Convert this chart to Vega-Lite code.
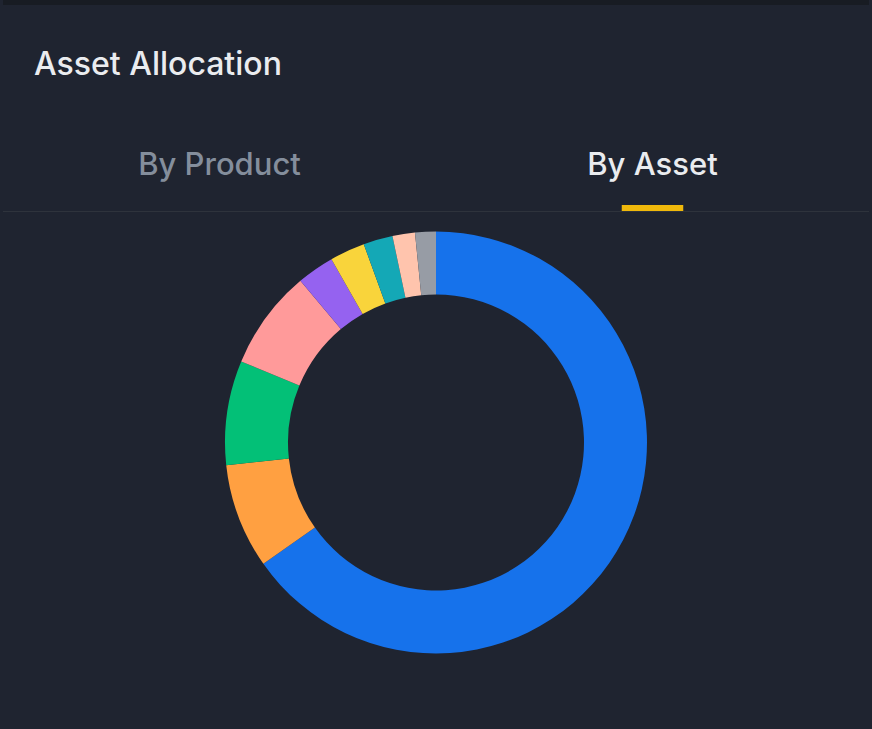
{
  "$schema": "https://vega.github.io/schema/vega-lite/v6.json",
  "width": 872,
  "height": 729,
  "autosize": {"type": "fit", "contains": "padding"},
  "padding": 0,
  "background": "#1F2430",
  "config": {"view": {"stroke": null}, "font": "Inter"},
  "datasets": {
    "assets": [
      {"idx": 1, "asset": "A1", "share": 65.25},
      {"idx": 2, "asset": "A2", "share": 8.03},
      {"idx": 3, "asset": "A3", "share": 8.0},
      {"idx": 4, "asset": "A4", "share": 7.61},
      {"idx": 5, "asset": "A5", "share": 2.86},
      {"idx": 6, "asset": "A6", "share": 2.69},
      {"idx": 7, "asset": "A7", "share": 2.25},
      {"idx": 8, "asset": "A8", "share": 1.72},
      {"idx": 9, "asset": "A9", "share": 1.59}
    ],
    "tabs": [
      {"tab": "By Product", "active": false},
      {"tab": "By Asset", "active": true}
    ],
    "header": [{"label": "Asset Allocation"}]
  },
  "layer": [
    {
      "data": {"values": [{}]},
      "mark": {"type": "rule", "color": "#181C23", "strokeWidth": 5},
      "encoding": {"y": {"value": 2.5}}
    },
    {
      "data": {"values": [{}]},
      "mark": {"type": "rule", "color": "#2E333C", "strokeWidth": 1},
      "encoding": {"y": {"value": 211.5}}
    },
    {
      "data": {"name": "header"},
      "mark": {"type": "text", "align": "left", "baseline": "middle", "fontSize": 32, "fontWeight": 500, "color": "#EAECEF"},
      "encoding": {"text": {"field": "label"}, "x": {"value": 31}, "y": {"value": 65}}
    },
    {
      "data": {"name": "tabs"},
      "mark": {"type": "text", "align": "center", "baseline": "middle", "fontSize": 31, "fontWeight": 500},
      "encoding": {
        "text": {"field": "tab"},
        "x": {"field": "tab", "type": "nominal", "sort": null, "scale": {"type": "band", "domain": ["By Product", "By Asset"], "paddingInner": 0, "paddingOuter": 0}, "axis": null},
        "y": {"value": 166},
        "color": {"condition": {"test": "datum.active", "value": "#EAECEF"}, "value": "#848E9C"}
      }
    },
    {
      "data": {"name": "tabs"},
      "transform": [{"filter": "datum.active"}],
      "mark": {"type": "bar", "color": "#F0B90B", "width": {"band": 0.142}},
      "encoding": {
        "x": {"field": "tab", "type": "nominal", "sort": null, "axis": null},
        "y": {"value": 205},
        "y2": {"value": 211}
      }
    },
    {
      "data": {"name": "assets"},
      "mark": {"type": "arc", "radius": 211, "radius2": 148, "y": 442.5},
      "encoding": {
        "theta": {"field": "share", "type": "quantitative", "stack": true},
        "order": {"field": "idx", "type": "quantitative"},
        "color": {
          "field": "asset",
          "type": "nominal",
          "legend": null,
          "scale": {
            "domain": ["A1", "A2", "A3", "A4", "A5", "A6", "A7", "A8", "A9"],
            "range": ["#1672EB", "#FFA041", "#03C077", "#FF9A9A", "#9562F0", "#F9D43B", "#14A8B6", "#FFC4AD", "#979CA5"]
          }
        }
      }
    }
  ]
}
